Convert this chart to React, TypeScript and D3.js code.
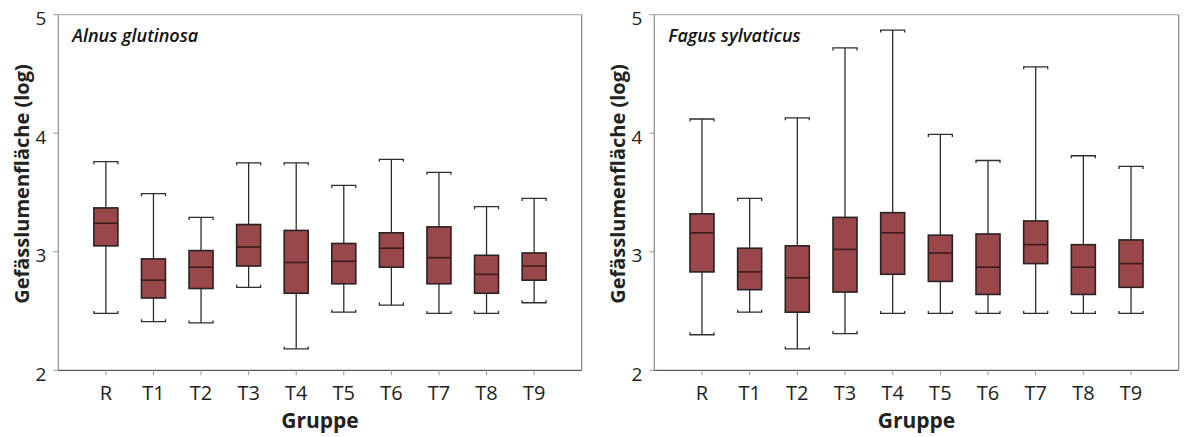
import React from "react";
import * as d3 from "d3";

// groups on the x axis
const groups = ["R", "T1", "T2", "T3", "T4", "T5", "T6", "T7", "T8", "T9"];
const yTicks = [2, 3, 4, 5];

// Alnus glutinosa (log vessel lumen area)
const alnusMax = [3.76, 3.49, 3.29, 3.75, 3.75, 3.56, 3.78, 3.67, 3.38, 3.45];
const alnusQ3 = [3.37, 2.94, 3.01, 3.23, 3.18, 3.07, 3.16, 3.21, 2.97, 2.99];
const alnusMedian = [3.24, 2.76, 2.87, 3.04, 2.91, 2.92, 3.03, 2.95, 2.81, 2.88];
const alnusQ1 = [3.05, 2.61, 2.69, 2.88, 2.65, 2.73, 2.87, 2.73, 2.65, 2.76];
const alnusMin = [2.48, 2.41, 2.4, 2.7, 2.18, 2.49, 2.55, 2.48, 2.48, 2.57];

// Fagus sylvaticus
const fagusMax = [4.12, 3.45, 4.13, 4.72, 4.87, 3.99, 3.77, 4.56, 3.81, 3.72];
const fagusQ3 = [3.32, 3.03, 3.05, 3.29, 3.33, 3.14, 3.15, 3.26, 3.06, 3.1];
const fagusMedian = [3.16, 2.83, 2.78, 3.02, 3.16, 2.99, 2.87, 3.06, 2.87, 2.9];
const fagusQ1 = [2.83, 2.68, 2.49, 2.66, 2.81, 2.75, 2.64, 2.9, 2.64, 2.7];
const fagusMin = [2.3, 2.49, 2.18, 2.31, 2.48, 2.48, 2.48, 2.48, 2.48, 2.48];

const FONT = "'Open Sans', 'Noto Sans', sans-serif";
const FILL = "#9a474c";
const DARK = "#2a2222";

type PanelProps = {
  title: string;
  left: number;
  right: number;
  min: number[];
  q1: number[];
  median: number[];
  q3: number[];
  max: number[];
};

const TOP = 14.7;
const BOTTOM = 370.3;

const Panel = ({ title, left, right, min, q1, median, q3, max }: PanelProps) => {
  const x = d3.scalePoint<string>().domain(groups).range([left, right]).padding(1);
  const y = d3.scaleLinear().domain([2, 5]).range([BOTTOM, TOP]);
  const bw = 24;
  const half = bw / 2;

  const stats = groups.map((g, i) => ({
    g,
    min: min[i],
    q1: q1[i],
    med: median[i],
    q3: q3[i],
    max: max[i],
  }));

  return (
    <g>
      {/* frame */}
      <line x1={left} x2={right} y1={TOP} y2={TOP} stroke="#b4b4b4" strokeWidth={1.2} />
      <line x1={right} x2={right} y1={TOP} y2={BOTTOM} stroke="#858585" strokeWidth={1.2} />
      <line x1={left} x2={left} y1={TOP} y2={BOTTOM} stroke="#8c8c8c" strokeWidth={1.2} />
      <line x1={left} x2={right} y1={BOTTOM} y2={BOTTOM} stroke="#5a5a5a" strokeWidth={1.3} />

      {/* y ticks */}
      {yTicks.map((t) => (
        <g key={t}>
          <line x1={left - 5} x2={left} y1={y(t)} y2={y(t)} stroke="#999" strokeWidth={1} />
          <text
            x={left - 12}
            y={y(t) + 3.5}
            textAnchor="end"
            dominantBaseline="central"
            fontFamily={FONT}
            fontSize={19}
            fill="#222"
          >
            {t}
          </text>
        </g>
      ))}

      {/* x ticks */}
      {groups.map((g) => (
        <g key={g}>
          <line x1={x(g)} x2={x(g)} y1={BOTTOM} y2={BOTTOM + 5} stroke="#999" strokeWidth={1} />
          <text
            x={x(g)}
            y={399.5}
            textAnchor="middle"
            fontFamily={FONT}
            fontSize={20}
            fill="#222"
          >
            {g}
          </text>
        </g>
      ))}

      {/* boxes */}
      {stats.map((d) => {
        const cx = x(d.g) as number;
        return (
          <g key={d.g}>
            <line x1={cx} x2={cx} y1={y(d.max)} y2={y(d.q3)} stroke="#2e2e2e" strokeWidth={1.3} />
            <line x1={cx} x2={cx} y1={y(d.q1)} y2={y(d.min)} stroke="#2e2e2e" strokeWidth={1.3} />
            <path
              d={`M${cx - half},${y(d.max) + 2.5}V${y(d.max)}H${cx + half}V${y(d.max) + 2.5}`}
              fill="none"
              stroke="#2e2e2e"
              strokeWidth={1.3}
            />
            <path
              d={`M${cx - half},${y(d.min) - 2.5}V${y(d.min)}H${cx + half}V${y(d.min) - 2.5}`}
              fill="none"
              stroke="#2e2e2e"
              strokeWidth={1.3}
            />
            <rect
              x={cx - half}
              y={y(d.q3)}
              width={bw}
              height={y(d.q1) - y(d.q3)}
              fill={FILL}
              stroke={DARK}
              strokeWidth={1.6}
            />
            <line
              x1={cx - half}
              x2={cx + half}
              y1={y(d.med)}
              y2={y(d.med)}
              stroke="#3a1c1e"
              strokeWidth={1.6}
            />
          </g>
        );
      })}

      {/* titles */}
      <text
        x={left + 14}
        y={42.3}
        fontFamily={FONT}
        fontStyle="italic"
        fontWeight={600}
        fontSize={18}
        fill="#111"
      >
        {title}
      </text>
      <text
        x={(left + right) / 2}
        y={428}
        textAnchor="middle"
        fontFamily={FONT}
        fontWeight="bold"
        fontSize={21}
        fill="#222"
      >
        Gruppe
      </text>
      <text
        transform={`translate(${left - 37},${184}) rotate(-90)`}
        textAnchor="middle"
        dominantBaseline="central"
        fontFamily={FONT}
        fontWeight="bold"
        fontSize={20}
        fill="#222"
      >
        Gefässlumenfläche (log)
      </text>
    </g>
  );
};

export default function App() {
  return (
    <svg
      width={1187}
      height={437}
      style={{ position: "absolute", left: 0, top: 0, background: "#fff" }}
    >
      <Panel
        title="Alnus glutinosa"
        left={58.3}
        right={581.7}
        min={alnusMin}
        q1={alnusQ1}
        median={alnusMedian}
        q3={alnusQ3}
        max={alnusMax}
      />
      <Panel
        title="Fagus sylvaticus"
        left={654.3}
        right={1178.7}
        min={fagusMin}
        q1={fagusQ1}
        median={fagusMedian}
        q3={fagusQ3}
        max={fagusMax}
      />
    </svg>
  );
}
